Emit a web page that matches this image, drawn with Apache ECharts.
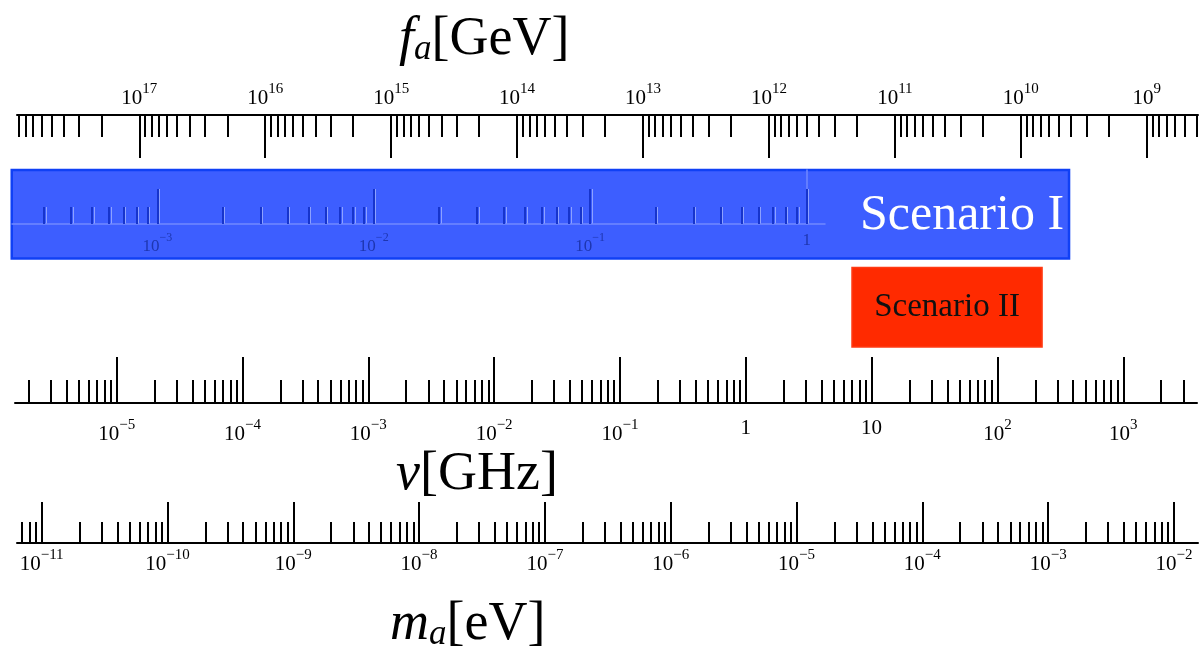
<!DOCTYPE html>
<html><head><meta charset="utf-8">
<script src="https://cdn.jsdelivr.net/npm/echarts@6/dist/echarts.min.js"></script>
<style>html,body{margin:0;padding:0;background:#fff}#c{width:1203px;height:654px}</style>
</head><body><div id="c"></div>
<script>
// ---------- data ----------
const faDecades = [9, 10, 11, 12, 13, 14, 15, 16, 17];          // log10 f_a [GeV]
const faTickSpan = [4e8, 9e17];
const nuDecades = [-5, -4, -3, -2, -1, 0, 1, 2, 3];             // log10 nu [GHz]
const nuTickSpan = [2e-6, 3e3];
const maDecades = [-11, -10, -9, -8, -7, -6, -5, -4, -3, -2];   // log10 m_a [eV]
const maTickSpan = [7e-12, 1e-2];
const innerDecades = [-3, -2, -1, 0];
const innerTickSpan = [3e-4, 1];
const scenarioNames = ['Scenario I', 'Scenario II'];
const scenarioFaMax = [1.03e18, 2.19e11];   // GeV
const scenarioFaMin = [4.14e9, 6.78e9];     // GeV

// ---------- helpers ----------
const SERIF = '"Liberation Serif", "DejaVu Serif", serif';
function minorLogs(span) {
  const out = [];
  const lo = Math.floor(Math.log10(span[0])) - 1, hi = Math.ceil(Math.log10(span[1])) + 1;
  for (let n = lo; n <= hi; n++) for (let k = 2; k <= 9; k++) {
    const v = k * Math.pow(10, n);
    if (v >= span[0] * 0.999 && v <= span[1] * 1.001) out.push(Math.log10(v));
  }
  return out;
}
function powLabel(v, plain) {
  const n = Math.round(v);
  if (plain && n === 0) return '{p|1}';
  if (plain && n === 1) return '{p|10}';
  return '{b|10}{s|' + (n < 0 ? '\u2212' : '') + Math.abs(n) + '}';
}

const axes = [
  {left: 17, width: 1181, top: 115, height: 50, position: 'top', inverse: true, min: 8.593, max: 17.971,
   majors: faDecades, minors: minorLogs(faTickSpan), majorLen: 43, minorLen: 22, margin: 6,
   font: 21, sup: 15, color: '#000', lineColor: '#000', tickColor: '#000', lineWidth: 2, tickWidth: 2, plain: false},
  {left: 15, width: 1182, top: 353, height: 50, position: 'bottom', inverse: false, min: -5.808, max: 3.586,
   majors: nuDecades, minors: minorLogs(nuTickSpan), majorLen: 46, minorLen: 23, margin: 15,
   font: 21, sup: 15, color: '#000', lineColor: '#000', tickColor: '#000', lineWidth: 2, tickWidth: 2, plain: true},
  {left: 17, width: 1181, top: 493, height: 50, position: 'bottom', inverse: false, min: -11.196, max: -1.809,
   majors: maDecades, minors: minorLogs(maTickSpan), majorLen: 41, minorLen: 21, margin: 5,
   font: 21, sup: 15, color: '#000', lineColor: '#000', tickColor: '#000', lineWidth: 2, tickWidth: 2, plain: false},
  // light highlight of the inner (faded) axis ticks, drawn just right of the dark ones
  {left: 14, width: 813, top: 170, height: 54, position: 'bottom', inverse: false, min: -3.671, max: 0.0845,
   majors: innerDecades, minors: minorLogs(innerTickSpan), majorLen: 35, minorLen: 17, margin: 8,
   font: 17, sup: 12, color: '#1e36b0', lineColor: '#7189ff', tickColor: '#8da1ff', lineWidth: 1.5, tickWidth: 1, plain: true, ghost: true},
  {left: 12, width: 813, top: 170, height: 54, position: 'bottom', inverse: false, min: -3.671, max: 0.0845,
   majors: innerDecades, minors: minorLogs(innerTickSpan), majorLen: 35, minorLen: 17, margin: 8,
   font: 17, sup: 12, color: '#1e36b0', lineColor: '#7189ff', tickColor: '#1634cc', lineWidth: 1.5, tickWidth: 2, plain: true, frame: true}
];

const grid = [], xAxis = [], yAxis = [];
axes.forEach(a => {
  ['major', 'minor'].forEach(kind => {
    const gi = grid.length;
    const isMajor = kind === 'major';
    const showLine = isMajor && !a.ghost;
    grid.push({left: a.left, top: a.top, width: a.width, height: a.height, containLabel: false, outerBoundsMode: 'none'});
    xAxis.push({
      gridIndex: gi, type: 'value', min: a.min, max: a.max, inverse: a.inverse, position: a.position, z: a.ghost ? 4 : 5,
      axisLine: {show: showLine, onZero: false, lineStyle: {color: a.lineColor, width: a.lineWidth}},
      axisTick: {show: true, inside: true, length: isMajor ? a.majorLen : a.minorLen,
                 customValues: isMajor ? a.majors : a.minors,
                 lineStyle: {color: a.tickColor, width: a.tickWidth}},
      axisLabel: {show: showLine, customValues: a.majors, margin: a.margin,
                  formatter: v => powLabel(v, a.plain),
                  fontFamily: SERIF, fontSize: a.font, color: a.color,
                  rich: {
                    b: {fontFamily: SERIF, fontSize: a.font, lineHeight: a.font + 6, verticalAlign: 'bottom', color: a.color},
                    s: {fontFamily: SERIF, fontSize: a.sup, lineHeight: a.sup, verticalAlign: 'top', color: a.color},
                    p: {fontFamily: SERIF, fontSize: a.font, lineHeight: a.font, color: a.color}
                  }},
      splitLine: {show: false}, minorTick: {show: false}, minorSplitLine: {show: false}
    });
    const showFrame = isMajor && !!a.frame;
    yAxis.push({gridIndex: gi, type: 'value', min: 0, max: 1, show: showFrame, position: 'right', z: 5,
      axisLine: {show: showFrame, lineStyle: {color: a.lineColor, width: a.lineWidth}},
      axisTick: {show: false}, axisLabel: {show: false}, splitLine: {show: false}});
  });
});

// band grid for scenarios (f_a coordinates)
const bandGrid = grid.length;
grid.push({left: 17, width: 1181, top: 170, height: 177, containLabel: false, outerBoundsMode: 'none'});
xAxis.push({gridIndex: bandGrid, type: 'value', min: 8.593, max: 17.971, inverse: true, show: false});
yAxis.push({gridIndex: bandGrid, type: 'category', data: scenarioNames, inverse: true, show: false});

const bandStyles = [
  {fill: '#3d5eff', stroke: '#1040f5', lw: 2.5, text: '#ffffff', size: 50, insetTop: 0, insetBottom: 0, align: 'right', dy: 2},
  {fill: '#ff2a00', stroke: '#ff3b14', lw: 1.5, text: '#111111', size: 33, insetTop: 9, insetBottom: 0, align: 'center', dy: 0}
];

function titleRich() {
  return {
    i: {fontFamily: SERIF, fontStyle: 'italic', fontSize: 54, lineHeight: 60, verticalAlign: 'bottom', color: '#000'},
    sub: {fontFamily: SERIF, fontStyle: 'italic', fontSize: 35, lineHeight: 34, verticalAlign: 'bottom', color: '#000'},
    r: {fontFamily: SERIF, fontSize: 54, lineHeight: 60, verticalAlign: 'bottom', color: '#000'}
  };
}

const option = {
  animation: false,
  backgroundColor: '#ffffff',
  grid, xAxis, yAxis,
  series: [{
    type: 'custom', xAxisIndex: bandGrid, yAxisIndex: bandGrid, clip: false, z: 1,
    encode: {x: [0, 1], y: 2},
    data: scenarioNames.map((n, i) => [Math.log10(scenarioFaMax[i]), Math.log10(scenarioFaMin[i]), i]),
    renderItem(params, api) {
      const i = api.value(2);
      const p0 = api.coord([api.value(0), i]);
      const p1 = api.coord([api.value(1), i]);
      const h = api.size([0, 1])[1];
      const st = bandStyles[i];
      const x0 = Math.min(p0[0], p1[0]), x1 = Math.max(p0[0], p1[0]);
      const y0 = p0[1] - h / 2 + st.insetTop, y1 = p0[1] + h / 2 - st.insetBottom;
      return {type: 'group', children: [
        {type: 'rect', shape: {x: x0, y: y0, width: x1 - x0, height: y1 - y0},
         style: {fill: st.fill, stroke: st.stroke, lineWidth: st.lw}},
        {type: 'text', x: st.align === 'right' ? x1 - 5 : (x0 + x1) / 2, y: (y0 + y1) / 2 + st.dy,
         style: {text: scenarioNames[i], fill: st.text, font: st.size + 'px ' + SERIF,
                 align: st.align, verticalAlign: 'middle'}}
      ]};
    }
  }],
  graphic: [
    {type: 'text', left: 399, top: 13, z: 10, style: {text: '{i|f}{sub|a}{r|[GeV]}', rich: titleRich()}},
    {type: 'text', left: 396, top: 448, z: 10, style: {text: '{i|\u03bd}{r|[GHz]}', rich: titleRich()}},
    {type: 'text', left: 390, top: 598, z: 10, style: {text: '{i|m}{sub|a}{r|[eV]}', rich: titleRich()}}
  ]
};
const chart = echarts.init(document.getElementById('c'), null, {renderer: 'canvas'});
chart.setOption(option);
</script>
</body></html>
